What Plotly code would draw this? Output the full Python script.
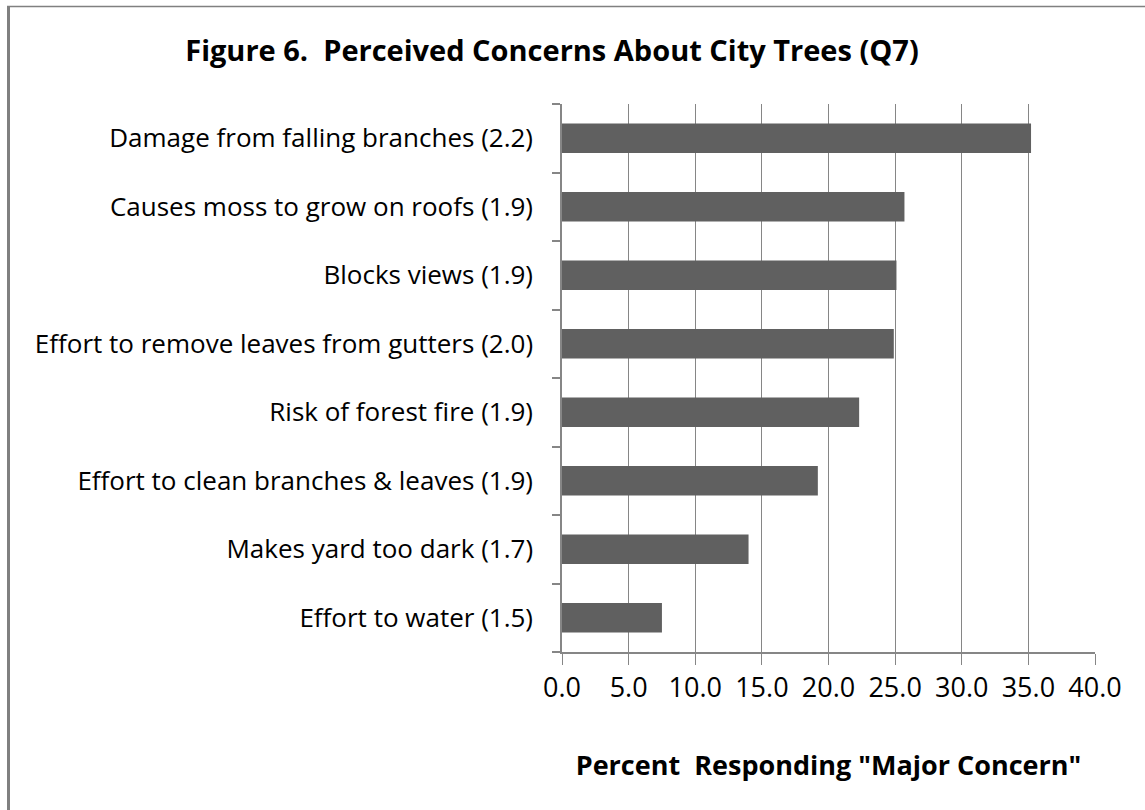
import plotly.graph_objects as go

# Concerns, listed bottom-to-top so the largest sits at the top
categories = [
    "Effort to water (1.5)",
    "Makes yard too dark (1.7)",
    "Effort to clean branches & leaves (1.9)",
    "Risk of forest fire (1.9)",
    "Effort to remove leaves from gutters (2.0)",
    "Blocks views (1.9)",
    "Causes moss to grow on roofs (1.9)",
    "Damage from falling branches (2.2)",
]
percent_major = [7.5, 14.0, 19.2, 22.3, 24.9, 25.1, 25.7, 35.2]
x_ticks = [0, 5, 10, 15, 20, 25, 30, 35, 40]
x_tick_text = ["0.0", "5.0", "10.0", "15.0", "20.0", "25.0", "30.0", "35.0", "40.0"]

FONT = "'Open Sans', Lato, sans-serif"
GRID = "#868686"

fig = go.Figure(
    go.Bar(
        x=percent_major,
        y=categories,
        orientation="h",
        marker=dict(color="#606060", line=dict(width=0)),
        hoverinfo="x+y",
    )
)

W, H = 1145, 810
L, R, T, B = 562, 50, 104, 158
pw = W - L - R

def px_to_paper_x(px):
    return (px - L) / pw

fig.update_layout(
    width=W,
    height=H,
    margin=dict(l=L, r=R, t=T, b=B, autoexpand=False),
    paper_bgcolor="white",
    plot_bgcolor="white",
    bargap=0.57,
    showlegend=False,
    font=dict(family=FONT, color="#000000"),
    title=dict(
        text="<b>Figure 6.  Perceived Concerns About City Trees (Q7)</b>",
        font=dict(family=FONT, size=29, color="#000000"),
        xref="container",
        x=552 / W,
        xanchor="center",
        yref="container",
        y=1 - 51 / H,
        yanchor="middle",
    ),
    xaxis=dict(
        range=[0, 40],
        tickvals=x_ticks,
        ticktext=x_tick_text,
        showgrid=True,
        gridcolor=GRID,
        gridwidth=1,
        showline=True,
        linecolor=GRID,
        linewidth=1.5,
        ticks="outside",
        ticklen=11,
        tickcolor=GRID,
        tickwidth=1,
        ticklabelstandoff=0,
        tickfont=dict(family=FONT, size=27, color="#000000"),
        zeroline=False,
        title=dict(
            text="<b>Percent  Responding \"Major Concern\"</b>",
            font=dict(family=FONT, size=27, color="#000000"),
            standoff=52,
        ),
        fixedrange=True,
    ),
    yaxis=dict(
        type="category",
        categoryorder="array",
        categoryarray=categories,
        tickson="boundaries",
        ticks="outside",
        ticklen=8,
        tickcolor=GRID,
        tickwidth=1.5,
        showline=True,
        linecolor=GRID,
        linewidth=1.5,
        showgrid=False,
        ticklabelstandoff=22,
        tickfont=dict(family=FONT, size=26, color="#000000"),
        fixedrange=True,
    ),
)

# Frame lines along the left and top edges of the figure
fig.add_shape(
    type="line", xref="paper", yref="paper",
    x0=px_to_paper_x(8.5), x1=px_to_paper_x(8.5),
    y0=1 + (T - 6) / (H - T - B), y1=-B / (H - T - B) - 0.01,
    line=dict(color="#808080", width=3),
)
fig.add_shape(
    type="line", xref="paper", yref="paper",
    x0=px_to_paper_x(7), x1=px_to_paper_x(W + 5),
    y0=1 + (T - 6.5) / (H - T - B), y1=1 + (T - 6.5) / (H - T - B),
    line=dict(color="#808080", width=1.5),
)

fig.write_html("out.html")
